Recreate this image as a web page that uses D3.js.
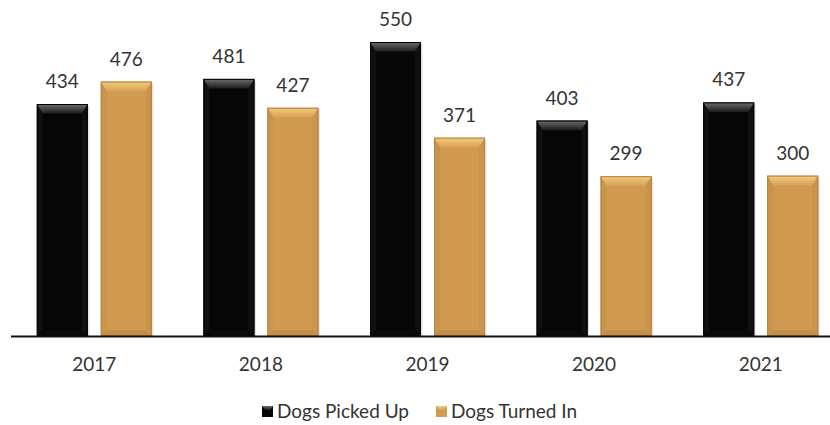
<!DOCTYPE html>
<html>
<head>
<meta charset="utf-8">
<script src="https://cdn.jsdelivr.net/npm/d3@7"></script>
<style>
  html, body { margin: 0; padding: 0; background: #fff; }
  svg { display: block; }
</style>
</head>
<body>
<svg id="chart" width="830" height="425"></svg>
<script>
const years = ["2017", "2018", "2019", "2020", "2021"];
const seriesNames = ["Dogs Picked Up", "Dogs Turned In"];
const pickedUp = [434, 481, 550, 403, 437];
const turnedIn = [476, 427, 371, 299, 300];

const svg = d3.select("#chart");
const baseY = 336, topY = 42;
const font = "Lato, 'Open Sans', sans-serif";
const textColor = "#333";

const x0 = d3.scaleBand().domain(years).range([11, 844]).padding(0);
const groupW = 115;
const x1 = d3.scaleBand().domain(seriesNames).range([0, groupW]).paddingInner(0.203).paddingOuter(0);
const y = d3.scaleLinear().domain([0, 550]).range([baseY, topY]);

const palettes = {
  "Dogs Picked Up": { body: "#060606", top: ["#6e6e6e", "#1c1c1c"], side: "#1a1a1a", bottom: "#0e0e0e", stroke: "#000" },
  "Dogs Turned In": { body: "#D09A51", top: ["#F4CB7E", "#D8A257"], side: "#C38D44", bottom: "#BC8744", stroke: "#B3803F" }
};

const defs = svg.append("defs");
seriesNames.forEach((s, i) => {
  const g = defs.append("linearGradient").attr("id", "topg" + i).attr("x1", 0).attr("y1", 0).attr("x2", 0).attr("y2", 1);
  g.append("stop").attr("offset", "0%").attr("stop-color", palettes[s].top[0]);
  g.append("stop").attr("offset", "100%").attr("stop-color", palettes[s].top[1]);
});

const data = [];
years.forEach((yr, i) => {
  data.push({ year: yr, series: seriesNames[0], value: pickedUp[i], idx: 0 });
  data.push({ year: yr, series: seriesNames[1], value: turnedIn[i], idx: 1 });
});

const off = (x0.bandwidth() - groupW) / 2;
const bev = 6;

const bars = svg.append("g").selectAll("g.bar").data(data).join("g").attr("class", "bar");
bars.each(function(d) {
  const g = d3.select(this);
  const p = palettes[d.series];
  const xL = x0(d.year) + off + x1(d.series);
  const w = x1.bandwidth();
  const yT = y(d.value);
  const h = baseY - yT;
  const xR = xL + w;
  g.append("rect").attr("x", xL + 1.5).attr("y", yT + 1.5).attr("width", w).attr("height", h - 1.5)
    .attr("fill", "#000").attr("opacity", 0.12);
  g.append("rect").attr("x", xL).attr("y", yT).attr("width", w).attr("height", h).attr("fill", p.body);
  g.append("polygon").attr("points", [[xL, yT], [xR, yT], [xR - bev, yT + bev * 1.6], [xL + bev, yT + bev * 1.6]].join(" "))
    .attr("fill", "url(#topg" + d.idx + ")");
  g.append("polygon").attr("points", [[xL, yT], [xL + bev, yT + bev * 1.6], [xL + bev, baseY - bev], [xL, baseY]].join(" "))
    .attr("fill", p.side).attr("opacity", 0.5);
  g.append("polygon").attr("points", [[xR, yT], [xR - bev, yT + bev * 1.6], [xR - bev, baseY - bev], [xR, baseY]].join(" "))
    .attr("fill", p.side).attr("opacity", 0.5);
  g.append("polygon").attr("points", [[xL, baseY], [xL + bev, baseY - bev], [xR - bev, baseY - bev], [xR, baseY]].join(" "))
    .attr("fill", p.bottom).attr("opacity", 0.6);
  g.append("rect").attr("x", xL + 0.5).attr("y", yT + 0.5).attr("width", w - 1).attr("height", h - 1)
    .attr("fill", "none").attr("stroke", p.stroke).attr("stroke-width", 1);
  g.append("text").attr("x", xL + w / 2).attr("y", yT - 16).attr("text-anchor", "middle")
    .attr("font-family", font).attr("font-size", 19).attr("fill", textColor).text(d.value);
});

const xAxis = d3.axisBottom(x0).tickSize(0).tickPadding(22);
const ax = svg.append("g").attr("transform", `translate(0,${baseY})`).call(xAxis);
ax.select(".domain").remove();
ax.selectAll("text").attr("font-family", font).attr("font-size", 19).attr("fill", textColor).attr("dy", "0.71em");
svg.append("line").attr("x1", 11).attr("x2", 830).attr("y1", baseY + 0.5).attr("y2", baseY + 0.5)
  .attr("stroke", "#111").attr("stroke-width", 2);

const legendItems = [
  { name: seriesNames[0], x: 262, idx: 0 },
  { name: seriesNames[1], x: 436, idx: 1 }
];
const lg = svg.append("g");
legendItems.forEach(it => {
  const p = palettes[it.name];
  const s = 11, ly = 406;
  lg.append("rect").attr("x", it.x).attr("y", ly).attr("width", s).attr("height", s).attr("fill", p.body);
  lg.append("polygon").attr("points", [[it.x, ly], [it.x + s, ly], [it.x + s - 3, ly + 4], [it.x + 3, ly + 4]].join(" "))
    .attr("fill", "url(#topg" + it.idx + ")");
  lg.append("text").attr("x", it.x + s + 4).attr("y", ly + s / 2).attr("dy", "0.36em")
    .attr("font-family", font).attr("font-size", 19).attr("fill", textColor).text(it.name);
});
</script>
</body>
</html>
